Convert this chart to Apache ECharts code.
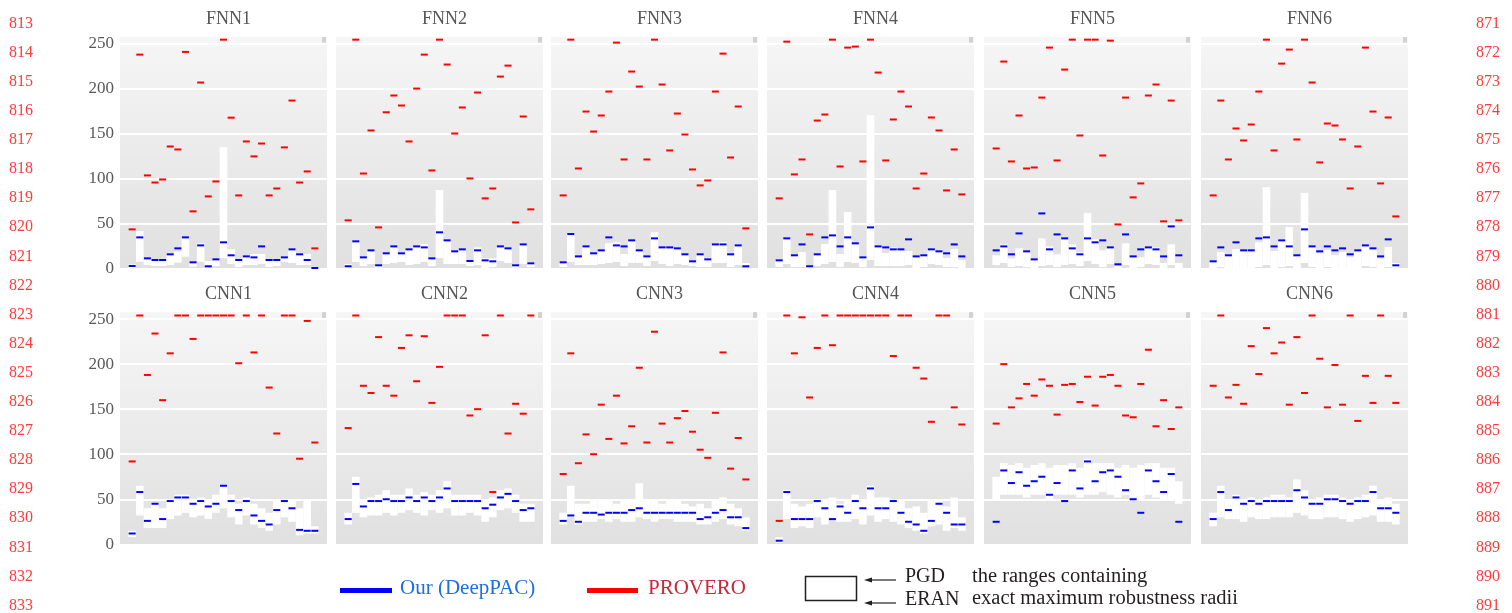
<!DOCTYPE html>
<html>
<head>
<meta charset="utf-8">
<script src="https://cdn.jsdelivr.net/npm/echarts@6/dist/echarts.min.js"></script>
<style>
html, body { margin: 0; padding: 0; background: #fff; }
#main { width: 1512px; height: 613px; }
</style>
</head>
<body>
<div id="main"></div>
<script>
var panelNames = ['FNN1', 'FNN2', 'FNN3', 'FNN4', 'FNN5', 'FNN6', 'CNN1', 'CNN2', 'CNN3', 'CNN4', 'CNN5', 'CNN6'];
var yTicks = [0, 50, 100, 150, 200, 250];

// each panel: ERAN (lower end of range), PGD (upper end), DeepPAC, PROVERO
var fnn1Eran = [0, 8.1, 4.4, 3.3, 3.3, 4.4, 7, 13.7, 2.6, 8.1, 3.3, 3.3, 11.8, 5.5, 2.2, 4.4, 4.4, 5.5, 2.2, 3.3, 7.8, 6.7, 4.4, 4.4, 0];
var fnn1Pgd = [5, 42.1, 11.8, 10, 10, 17.4, 19.2, 35.1, 7.4, 28.5, 8.9, 10.7, 135.3, 22.2, 10, 14, 16.6, 16.6, 10, 10, 12.9, 21.8, 16.3, 16.6, 2.2];
var fnn1Our = [3.3, 35.1, 11.8, 10, 10, 16.3, 22.9, 35.1, 7.4, 26.2, 3, 10.7, 29.6, 15.2, 10, 14, 12.9, 25.1, 10, 10, 12.9, 21.8, 16.3, 10, 1.1];
var fnn1Provero = [44, 238, 103.9, 96, 99.4, 136, 132.7, 241, 64, 207, 80.6, 97.2, 254.6, 168, 81.7, 141.6, 125, 139.3, 81.7, 89.4, 135, 187, 96, 108.3, 22.9];

var fnn2Eran = [1.1, 7.8, 3.3, 5.5, 1.1, 5.5, 6.7, 7.8, 4.4, 5.5, 7.8, 3.3, 12.2, 5.5, 5.5, 5.5, 3.3, 4.4, 1.1, 2.2, 8.9, 6.7, 1.1, 5.5, 2.2];
var fnn2Pgd = [5.5, 30.7, 12.9, 20.7, 4.1, 17.4, 25.1, 17.4, 21.8, 25.1, 27.7, 11.8, 87.6, 31.8, 19.6, 21.8, 8.9, 24, 11.8, 11.8, 25.1, 22.9, 4.1, 27.3, 7.4];
var fnn2Our = [3, 30.7, 12.9, 20.7, 4.1, 17.4, 25.1, 17.4, 21.8, 25.1, 24, 11.8, 40.7, 31.8, 19.6, 21.8, 8.9, 20.7, 9.6, 8.5, 25.1, 22.9, 4.1, 27.3, 6.3];
var fnn2Provero = [54, 254.6, 106, 153.8, 46.2, 174, 192.6, 181.5, 141.6, 200.3, 238, 109.4, 254.6, 227, 150.4, 179.3, 100.5, 195.9, 78.4, 89.4, 213.6, 225.8, 51.7, 169.3, 66.2];

var fnn3Eran = [2.2, 7.8, 4.4, 4.4, 4.4, 5.5, 6.7, 7.8, 3.3, 6.7, 6.7, 3.3, 8.9, 5.5, 3.3, 5.5, 4.4, 3.3, 2.2, 2.2, 6.7, 6.7, 2.2, 4.4, 2.2];
var fnn3Pgd = [7.4, 38.8, 14, 25.1, 17.4, 20.7, 28.5, 29.6, 16.6, 31.8, 20.7, 14, 41, 24, 22.9, 22.9, 16.3, 8.5, 16.3, 11.8, 27.3, 29.6, 16.3, 26.2, 6.7];
var fnn3Our = [7.4, 38.8, 14, 25.1, 17.4, 20.7, 35.1, 26.2, 25.1, 31.8, 20.7, 14, 34, 24, 24, 22.9, 16.3, 8.5, 16.3, 10.7, 27.3, 27.3, 16.3, 26.2, 3];
var fnn3Provero = [81.7, 254.6, 111.6, 174.8, 152.6, 170.4, 197, 251.3, 121.6, 219.2, 202.5, 121.6, 254.6, 204.8, 131.6, 172.6, 149.3, 110.5, 92.8, 98.3, 197, 239.1, 123.8, 180.4, 45.1];

var fnn4Eran = [2.2, 5.5, 2.2, 2.2, 0, 3.3, 5.5, 7.8, 2.2, 7.8, 6.7, 2.2, 10, 3.3, 3.3, 3.3, 3.3, 4.4, 1.1, 2.2, 5.5, 4.4, 2.2, 2.2, 1.1];
var fnn4Pgd = [9.6, 34, 15.2, 18.8, 3, 16.3, 27.7, 87.6, 16.6, 63.2, 28.5, 12.9, 170.8, 25.1, 17.7, 24, 21.8, 20, 14, 15.2, 21.8, 19.6, 12.2, 22.2, 10];
var fnn4Our = [9.6, 34, 15.2, 27.3, 3, 16.3, 35.1, 37.3, 25.1, 35.1, 28.5, 12.9, 46.2, 25.1, 24, 21.8, 21.8, 32.9, 14, 15.2, 21.8, 19.6, 17.4, 27.3, 14];
var fnn4Provero = [78.4, 252.4, 105, 121.6, 38.4, 164.8, 171.5, 254.6, 113.8, 245.8, 246.9, 119.4, 254.6, 218.1, 120.5, 166, 197, 180.4, 89.4, 106, 168.2, 153.8, 87.2, 132.7, 82.8];

var fnn5Eran = [4.4, 6.7, 2.2, 3.3, 2.2, 1.1, 3.3, 4.4, 2.2, 4.4, 5.5, 3.3, 8.9, 5.5, 2.2, 5.5, 0, 4.4, 1.1, 2.2, 5.5, 4.4, 1.1, 4.4, 0];
var fnn5Pgd = [15.2, 27.3, 11.8, 22.9, 19.6, 11.8, 34, 25.1, 16.3, 34, 27.3, 18.5, 62.1, 32.9, 20.7, 24, 3, 28.5, 12.9, 12.9, 22.9, 24, 6.7, 27.3, 6.7];
var fnn5Our = [20.7, 25.1, 16.3, 39.5, 19.6, 10.7, 61.7, 21.8, 38.4, 34, 22.9, 16.3, 34, 29.6, 31.8, 24, 5.2, 38.4, 14, 21.8, 24, 21.8, 14, 47.3, 15.2];
var fnn5Provero = [133.8, 230.3, 119.4, 170.4, 111.6, 112.7, 190.3, 245.8, 120.5, 221.4, 254.6, 148.2, 254.6, 254.6, 126, 253.5, 49.5, 190.3, 79.5, 95, 192.6, 204.8, 52.9, 187, 54];

var fnn6Eran = [1.1, 2.2, 1.1, 1.1, 1.1, 1.1, 2.2, 4.4, 1.1, 2.2, 3.3, 1.1, 6.7, 2.2, 1.1, 2.2, 1.1, 1.1, 0, 1.1, 3.3, 2.2, 1.1, 2.2, 0];
var fnn6Pgd = [8.5, 18.8, 15.2, 22.2, 20.7, 20.7, 29.6, 90.9, 20, 33.3, 46.6, 15.2, 84.3, 25.1, 17.4, 21.1, 15.5, 18.8, 12.9, 20.7, 26.2, 22.9, 11.5, 24.4, 6.7];
var fnn6Our = [8.5, 24, 15.2, 29.6, 20.7, 20.7, 34, 35.1, 25.1, 31.8, 25.1, 15.2, 44, 25.1, 19.6, 25.1, 20.7, 22.9, 16.3, 20.7, 26.2, 22.9, 14, 32.9, 4.1];
var fnn6Provero = [81.7, 187, 121.6, 156, 142.7, 160.4, 197, 254.6, 131.6, 228, 243.6, 143.8, 254.6, 207, 118.3, 161.5, 159.3, 143.8, 89.4, 136, 245.8, 174.8, 95, 168.2, 58.4];

var cnn1Eran = [8, 32, 18, 18, 18, 28, 32, 35, 30, 32, 28, 35, 40, 30, 22, 32, 22, 18, 15, 22, 30, 25, 10, 12, 12];
var cnn1Pgd = [15, 65, 40, 45, 40, 50, 55, 55, 48, 52, 50, 55, 65, 55, 45, 52, 45, 40, 35, 50, 50, 50, 40, 50, 20];
var cnn1Our = [12, 58, 26, 45, 28, 48, 52, 52, 45, 48, 42, 45, 65, 48, 38, 48, 32, 26, 22, 38, 48, 40, 16, 15, 15];
var cnn1Provero = [92, 254, 188, 234, 160, 212, 254, 254, 228, 254, 254, 254, 254, 254, 201, 254, 213, 254, 174, 123, 254, 254, 95, 248, 113];

var cnn2Eran = [22, 35, 30, 32, 32, 35, 32, 35, 38, 35, 32, 38, 35, 40, 32, 32, 35, 32, 25, 30, 38, 40, 35, 25, 25];
var cnn2Pgd = [35, 75, 50, 52, 55, 60, 55, 55, 62, 55, 58, 55, 60, 70, 55, 55, 55, 55, 48, 52, 60, 62, 55, 45, 45];
var cnn2Our = [28, 67, 42, 48, 48, 50, 48, 48, 52, 48, 52, 48, 52, 62, 48, 48, 48, 48, 40, 44, 52, 56, 48, 38, 40];
var cnn2Provero = [129, 254, 176, 168, 230, 176, 165, 218, 232, 181, 231, 157, 197, 254, 254, 254, 143, 150, 232, 58, 254, 123, 156, 145, 254];

var cnn3Eran = [22, 30, 22, 25, 25, 28, 25, 28, 25, 25, 30, 28, 25, 28, 28, 25, 25, 25, 22, 22, 25, 28, 22, 20, 15];
var cnn3Pgd = [35, 65, 45, 45, 48, 50, 50, 45, 48, 50, 68, 48, 50, 45, 48, 50, 45, 42, 45, 40, 50, 52, 45, 40, 30];
var cnn3Our = [26, 32, 25, 35, 35, 33, 35, 35, 35, 38, 40, 35, 35, 35, 35, 35, 35, 35, 28, 30, 35, 38, 30, 30, 18];
var cnn3Provero = [78, 212, 90, 122, 100, 155, 117, 165, 112, 131, 196, 113, 236, 134, 113, 140, 148, 125, 105, 96, 146, 213, 84, 118, 72];

var cnn4Eran = [2, 28, 18, 20, 18, 30, 22, 28, 25, 25, 28, 22, 32, 25, 28, 25, 22, 18, 15, 12, 20, 22, 15, 18, 15];
var cnn4Pgd = [8, 60, 45, 42, 45, 50, 48, 52, 45, 48, 55, 48, 65, 52, 52, 48, 48, 40, 42, 35, 48, 48, 42, 52, 30];
var cnn4Our = [4, 58, 28, 28, 28, 48, 40, 28, 42, 35, 48, 40, 62, 40, 40, 48, 35, 25, 22, 15, 26, 45, 35, 22, 22];
var cnn4Provero = [26, 254, 212, 252, 163, 218, 254, 221, 254, 254, 254, 254, 254, 254, 254, 209, 254, 254, 196, 184, 136, 254, 254, 152, 133];

var cnn5Eran = [50, 55, 55, 55, 52, 55, 55, 50, 55, 55, 55, 52, 55, 55, 58, 55, 52, 55, 52, 50, 55, 52, 50, 50, 45];
var cnn5Pgd = [75, 90, 88, 90, 85, 88, 90, 85, 88, 88, 90, 85, 95, 90, 90, 90, 85, 88, 85, 88, 90, 90, 85, 85, 70];
var cnn5Our = [25, 82, 68, 80, 65, 70, 75, 55, 68, 48, 82, 62, 92, 70, 80, 82, 75, 60, 50, 35, 82, 70, 58, 78, 25];
var cnn5Provero = [134, 200, 152, 162, 178, 165, 183, 176, 144, 177, 178, 158, 186, 154, 186, 188, 176, 143, 141, 178, 216, 131, 160, 128, 152];

var cnn6Eran = [20, 30, 28, 28, 25, 30, 28, 28, 30, 30, 30, 35, 32, 28, 28, 30, 30, 28, 25, 28, 30, 32, 25, 25, 22];
var cnn6Pgd = [35, 65, 50, 55, 50, 52, 50, 52, 55, 55, 52, 72, 60, 50, 52, 55, 55, 52, 48, 52, 55, 65, 50, 52, 45];
var cnn6Our = [28, 58, 38, 52, 45, 48, 45, 48, 48, 48, 48, 60, 52, 45, 45, 50, 50, 48, 45, 48, 48, 58, 40, 40, 35];
var cnn6Provero = [176, 254, 163, 177, 156, 220, 189, 240, 212, 224, 155, 230, 168, 254, 206, 152, 199, 155, 254, 137, 187, 157, 254, 187, 157];

var panels = [
    [fnn1Eran, fnn1Pgd, fnn1Our, fnn1Provero],
    [fnn2Eran, fnn2Pgd, fnn2Our, fnn2Provero],
    [fnn3Eran, fnn3Pgd, fnn3Our, fnn3Provero],
    [fnn4Eran, fnn4Pgd, fnn4Our, fnn4Provero],
    [fnn5Eran, fnn5Pgd, fnn5Our, fnn5Provero],
    [fnn6Eran, fnn6Pgd, fnn6Our, fnn6Provero],
    [cnn1Eran, cnn1Pgd, cnn1Our, cnn1Provero],
    [cnn2Eran, cnn2Pgd, cnn2Our, cnn2Provero],
    [cnn3Eran, cnn3Pgd, cnn3Our, cnn3Provero],
    [cnn4Eran, cnn4Pgd, cnn4Our, cnn4Provero],
    [cnn5Eran, cnn5Pgd, cnn5Our, cnn5Provero],
    [cnn6Eran, cnn6Pgd, cnn6Our, cnn6Provero]
];

var serif = '"Liberation Serif", "DejaVu Serif", serif';
var gridLeft = [120, 336, 551, 767, 984, 1201];
var gridWidth = 207;
var rowTop = [35.7, 311];
var gridHeight = 233.3;

/* white box from ERAN to PGD */
function renderRange(params, api) {
    var x = api.value(0);
    var p1 = api.coord([x - 0.5, api.value(2)]);
    var p2 = api.coord([x + 0.5, api.value(1)]);
    return {
        type: 'rect',
        shape: { x: p1[0], y: p1[1], width: p2[0] - p1[0], height: p2[1] - p1[1] },
        style: { fill: '#ffffff' }
    };
}
/* short horizontal mark */
function tickRenderer(color) {
    return function (params, api) {
        var x = api.value(0);
        var p1 = api.coord([x - 0.46, api.value(1)]);
        var p2 = api.coord([x + 0.46, api.value(1)]);
        return {
            type: 'rect',
            shape: { x: p1[0], y: p1[1] - 1, width: p2[0] - p1[0], height: 2 },
            style: { fill: color }
        };
    };
}

var grids = [], xAxes = [], yAxes = [], series = [], titles = [], graphics = [];

for (var i = 0; i < panels.length; i++) {
    var col = i % 6, row = Math.floor(i / 6);
    var d = panels[i];
    grids.push({
        left: gridLeft[col], top: rowTop[row], width: gridWidth, height: gridHeight,
        show: true, borderWidth: 0,
        backgroundColor: {
            type: 'linear', x: 0, y: 0, x2: 0, y2: 1,
            colorStops: [{ offset: 0, color: '#f5f6f5' }, { offset: 1, color: '#dfe0df' }]
        }
    });
    xAxes.push({
        type: 'value', gridIndex: i, min: -1.6, max: 25.6, show: false
    });
    yAxes.push({
        type: 'value', gridIndex: i, min: 0, max: 259, interval: 50,
        axisLine: { show: false }, axisTick: { show: false },
        axisLabel: {
            show: col === 0, margin: 6,
            fontFamily: serif, fontSize: 17, color: '#595959',
            formatter: function (v) { return yTicks.indexOf(v) >= 0 ? String(v) : ''; }
        },
        splitLine: { show: true, lineStyle: { color: '#ffffff', width: 2 } }
    });
    titles.push({
        text: panelNames[i],
        left: gridLeft[col] + gridWidth / 2, top: row === 0 ? 5 : 280,
        textAlign: 'center',
        textStyle: { fontFamily: serif, fontSize: 18, fontWeight: 'normal', color: '#555555' }
    });

    var rangeData = [], ourData = [], provData = [];
    for (var k = 0; k < d[0].length; k++) {
        rangeData.push([k, d[0][k], d[1][k]]);
        ourData.push([k, d[2][k]]);
        provData.push([k, d[3][k]]);
    }
    series.push({
        type: 'custom', name: 'range', xAxisIndex: i, yAxisIndex: i,
        renderItem: renderRange, data: rangeData, z: 2, silent: true
    });
    series.push({
        type: 'custom', name: 'Our (DeepPAC)', xAxisIndex: i, yAxisIndex: i,
        renderItem: tickRenderer('#0000ff'), data: ourData, z: 3, silent: true
    });
    series.push({
        type: 'custom', name: 'PROVERO', xAxisIndex: i, yAxisIndex: i,
        renderItem: tickRenderer('#ff0000'), data: provData, z: 4, silent: true
    });

    // little grey handle at the top right corner of every panel
    graphics.push({
        type: 'rect', left: gridLeft[col] + gridWidth - 5, top: rowTop[row] + 1,
        shape: { width: 4, height: 6, r: 1 }, style: { fill: '#d2d2d2' }
    });
}

// page line numbers on both sides
for (var n = 0; n <= 20; n++) {
    var yy = 24.5 + n * 29.1;
    graphics.push({
        type: 'text', left: 9, top: yy - 9,
        style: { text: String(813 + n), font: '16px ' + serif, fill: '#ff3b3b' }
    });
    graphics.push({
        type: 'text', left: 1476, top: yy - 9,
        style: { text: String(871 + n), font: '16px ' + serif, fill: '#ff3b3b' }
    });
}

// legend
graphics.push(
    { type: 'rect', left: 340, top: 588, shape: { width: 52, height: 5 }, style: { fill: '#0000ff' } },
    { type: 'text', left: 400, top: 578, style: { text: 'Our (DeepPAC)', font: '21px ' + serif, fill: '#1f6fe0' } },
    { type: 'rect', left: 587, top: 588, shape: { width: 51, height: 5 }, style: { fill: '#ff0000' } },
    { type: 'text', left: 648, top: 578, style: { text: 'PROVERO', font: '21px ' + serif, fill: '#c8283a' } },
    { type: 'rect', left: 803, top: 574, shape: { width: 51, height: 24 }, style: { fill: 'none', stroke: '#231f20', lineWidth: 1.5 } },
    { type: 'line', shape: { x1: 870, y1: 580, x2: 896, y2: 580 }, style: { stroke: '#231f20', lineWidth: 1.2 } },
    { type: 'polygon', shape: { points: [[864, 580], [872, 577.5], [872, 582.5]] }, style: { fill: '#231f20' } },
    { type: 'line', shape: { x1: 870, y1: 603, x2: 896, y2: 603 }, style: { stroke: '#231f20', lineWidth: 1.2 } },
    { type: 'polygon', shape: { points: [[864, 603], [872, 600.5], [872, 605.5]] }, style: { fill: '#231f20' } },
    { type: 'text', left: 905, top: 567, style: { text: 'PGD', font: '20px ' + serif, fill: '#231f20' } },
    { type: 'text', left: 905, top: 590, style: { text: 'ERAN', font: '20px ' + serif, fill: '#231f20' } },
    { type: 'text', left: 972, top: 566, style: { text: 'the ranges containing', font: '20.5px ' + serif, fill: '#231f20' } },
    { type: 'text', left: 972, top: 588, style: { text: 'exact maximum robustness radii', font: '20.5px ' + serif, fill: '#231f20' } }
);

var myChart = echarts.init(document.getElementById('main'));
var option = {
    animation: false,
    backgroundColor: '#ffffff',
    title: titles,
    grid: grids,
    xAxis: xAxes,
    yAxis: yAxes,
    series: series,
    graphic: graphics
};
myChart.setOption(option);
</script>
</body>
</html>
